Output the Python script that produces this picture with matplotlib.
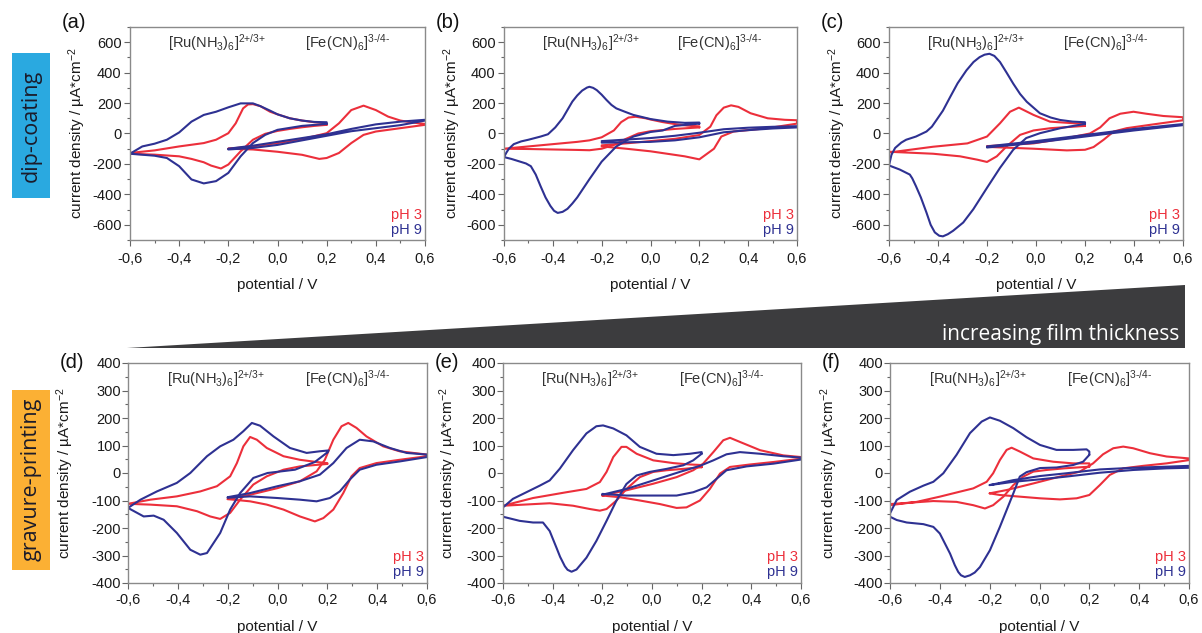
import matplotlib
matplotlib.use('Agg')
import matplotlib.pyplot as plt
from matplotlib.ticker import MultipleLocator, FuncFormatter
from matplotlib.patches import Polygon, Rectangle

plt.rcParams['font.family'] = ['Liberation Sans', 'DejaVu Sans']
plt.rcParams['mathtext.fontset'] = 'custom'
plt.rcParams['mathtext.rm'] = 'Liberation Sans'
plt.rcParams['mathtext.it'] = 'Liberation Sans:italic'
plt.rcParams['mathtext.bf'] = 'Liberation Sans:bold'
plt.rcParams['axes.unicode_minus'] = False

W, H = 1202, 633
RED = '#ec2f3b'
BLUE = '#2e3192'

# cyclic voltammograms: (potential / V, current density / uA cm-2), one closed loop per redox couple
# dip-coating
a_ph3_ru = [(0.2, 57), (0.15, 50), (0.1, 41), (0.05, 30), (0.0, 17), (-0.05, -2), (-0.1, -41), (-0.15, -117),
            (-0.2, -204), (-0.23, -230), (-0.27, -211), (-0.3, -189), (-0.35, -167), (-0.4, -150), (-0.5, -139),
            (-0.6, -133), (-0.6, -128), (-0.5, -111), (-0.4, -85), (-0.3, -63), (-0.25, -41), (-0.2, 2),
            (-0.17, 67), (-0.14, 165), (-0.12, 191), (-0.1, 193), (-0.07, 180), (-0.03, 143), (0.0, 126),
            (0.05, 100), (0.1, 85), (0.15, 74), (0.2, 67), (0.2, 57)]
a_ph9_ru = [(0.2, 63), (0.1, 50), (0.0, 24), (-0.05, -9), (-0.1, -63), (-0.15, -150), (-0.2, -259), (-0.25, -313),
            (-0.3, -328), (-0.35, -302), (-0.4, -215), (-0.45, -161), (-0.5, -146), (-0.6, -133), (-0.55, -85),
            (-0.5, -67), (-0.45, -41), (-0.4, 7), (-0.35, 78), (-0.3, 122), (-0.25, 143), (-0.2, 172),
            (-0.15, 198), (-0.1, 198), (-0.07, 180), (-0.03, 150), (0.0, 126), (0.05, 100), (0.1, 85),
            (0.15, 76), (0.2, 74), (0.2, 63)]
a_ph3_fe = [(-0.2, -100), (-0.1, -85), (0.0, -63), (0.1, -37), (0.2, 2), (0.25, 67), (0.3, 154), (0.35, 183),
            (0.4, 154), (0.45, 111), (0.5, 85), (0.55, 72), (0.6, 63), (0.6, 57), (0.5, 35), (0.4, 13),
            (0.35, -9), (0.3, -63), (0.25, -128), (0.2, -161), (0.17, -167), (0.1, -140), (0.0, -120),
            (-0.1, -105), (-0.2, -100)]
a_ph9_fe = [(-0.2, -100), (-0.1, -80), (0.0, -55), (0.1, -30), (0.2, -5), (0.3, 30), (0.4, 60), (0.5, 78),
            (0.6, 90), (0.6, 85), (0.5, 55), (0.4, 35), (0.3, 15), (0.2, -15), (0.1, -45), (0.0, -75),
            (-0.1, -95), (-0.2, -105)]

b_ph3_ru = [(0.2, 40), (0.1, 30), (0.0, 15), (-0.05, 0), (-0.1, -35), (-0.15, -75), (-0.2, -100), (-0.25, -110),
            (-0.3, -108), (-0.4, -105), (-0.5, -102), (-0.6, -100), (-0.5, -85), (-0.4, -70), (-0.3, -55),
            (-0.25, -45), (-0.2, -25), (-0.15, 20), (-0.12, 75), (-0.09, 105), (-0.06, 110), (-0.02, 100),
            (0.0, 92), (0.05, 75), (0.1, 62), (0.15, 52), (0.2, 47), (0.2, 40)]
b_ph9_ru = [(0.2, 65), (0.1, 50), (0.05, 20), (0.0, 10), (-0.07, -20), (-0.14, -85), (-0.2, -185), (-0.25, -300),
            (-0.3, -420), (-0.32, -460), (-0.34, -495), (-0.36, -515), (-0.38, -522), (-0.395, -508),
            (-0.41, -476), (-0.43, -420), (-0.45, -347), (-0.47, -270), (-0.49, -215), (-0.51, -197),
            (-0.53, -187), (-0.57, -167), (-0.6, -155), (-0.59, -125), (-0.58, -100), (-0.56, -70), (-0.53, -52),
            (-0.5, -41), (-0.45, -20), (-0.42, -5), (-0.39, 40), (-0.36, 100), (-0.34, 155), (-0.32, 210),
            (-0.3, 250), (-0.28, 282), (-0.26, 302), (-0.25, 307), (-0.235, 300), (-0.22, 285), (-0.2, 255),
            (-0.18, 220), (-0.16, 188), (-0.14, 165), (-0.1, 140), (-0.07, 122), (0.0, 95), (0.07, 78),
            (0.14, 70), (0.2, 72), (0.2, 65)]
b_ph3_fe = [(-0.2, -78), (-0.1, -65), (0.0, -50), (0.1, -35), (0.2, -10), (0.245, 45), (0.27, 120), (0.3, 170),
            (0.33, 185), (0.36, 175), (0.41, 133), (0.48, 100), (0.55, 90), (0.6, 87), (0.6, 65), (0.48, 35),
            (0.34, 13), (0.29, -20), (0.26, -100), (0.2, -170), (0.14, -150), (0.0, -117), (-0.1, -100),
            (-0.2, -85)]
b_ph9_fe = [(-0.2, -50), (-0.1, -40), (0.0, -30), (0.1, -15), (0.2, 5), (0.3, 28), (0.4, 38), (0.5, 44),
            (0.6, 48), (0.6, 40), (0.5, 33), (0.4, 22), (0.3, 8), (0.2, -25), (0.1, -45), (0.0, -55),
            (-0.1, -58), (-0.2, -60)]

c_ph3_ru = [(0.2, 50), (0.06, 35), (-0.01, 20), (-0.065, -9), (-0.12, -85), (-0.16, -150), (-0.2, -187),
            (-0.24, -172), (-0.31, -150), (-0.42, -133), (-0.6, -120), (-0.6, -125), (-0.42, -87),
            (-0.28, -65), (-0.2, -20), (-0.147, 67), (-0.106, 143), (-0.07, 170), (-0.01, 122), (0.057, 78),
            (0.194, 63), (0.2, 50)]
c_ph9_ru = [(0.2, 63), (0.1, 35), (0.016, 2), (-0.04, -30), (-0.093, -107), (-0.147, -226), (-0.2, -357),
            (-0.256, -498), (-0.297, -585), (-0.338, -639), (-0.36, -662), (-0.38, -676), (-0.395, -672),
            (-0.413, -650), (-0.43, -600), (-0.447, -520), (-0.47, -420), (-0.49, -346), (-0.505, -295),
            (-0.515, -270), (-0.556, -237), (-0.6, -210), (-0.59, -140), (-0.575, -95), (-0.55, -60),
            (-0.53, -41), (-0.49, -20), (-0.447, 13), (-0.425, 45), (-0.406, 89), (-0.38, 150), (-0.35, 241),
            (-0.32, 330), (-0.284, 415), (-0.255, 470), (-0.23, 502), (-0.21, 518), (-0.19, 524), (-0.17, 510),
            (-0.147, 470), (-0.12, 400), (-0.093, 328), (-0.065, 260), (-0.038, 209), (0.016, 133), (0.06, 105),
            (0.098, 89), (0.15, 78), (0.2, 74), (0.2, 63)]
c_ph3_fe = [(-0.2, -83), (-0.01, -65), (0.126, -30), (0.22, 0), (0.262, 40), (0.3, 100), (0.344, 130),
            (0.398, 143), (0.45, 130), (0.52, 115), (0.6, 107), (0.6, 87), (0.466, 57), (0.37, 35),
            (0.317, 13), (0.276, -41), (0.235, -89), (0.2, -107), (0.126, -111), (-0.01, -100), (-0.2, -88)]
c_ph9_fe = [(-0.2, -85), (0.0, -50), (0.2, -10), (0.4, 30), (0.6, 62), (0.6, 55), (0.4, 20), (0.2, -20),
            (0.0, -60), (-0.2, -92)]

# gravure-printing
d_ph3_ru = [(0.2, 33), (0.09, 24), (0.024, 12), (-0.043, -12), (-0.097, -42), (-0.15, -97), (-0.19, -145),
            (-0.23, -167), (-0.27, -158), (-0.323, -139), (-0.404, -121), (-0.51, -115), (-0.6, -112),
            (-0.51, -97), (-0.404, -85), (-0.31, -67), (-0.243, -48), (-0.19, -12), (-0.163, 36), (-0.137, 97),
            (-0.11, 131), (-0.083, 121), (-0.043, 91), (0.024, 61), (0.09, 48), (0.157, 40), (0.2, 36), (0.2, 33)]
d_ph9_ru = [(0.2, 75), (0.15, 40), (0.07, 12), (-0.04, 0), (-0.097, -18), (-0.15, -73), (-0.19, -133),
            (-0.23, -218), (-0.283, -291), (-0.31, -297), (-0.35, -279), (-0.404, -218), (-0.457, -170),
            (-0.497, -155), (-0.537, -158), (-0.6, -127), (-0.55, -97), (-0.484, -67), (-0.404, -36), (-0.35, 0),
            (-0.283, 61), (-0.23, 97), (-0.177, 121), (-0.137, 152), (-0.103, 182), (-0.07, 172), (-0.016, 133),
            (0.05, 91), (0.117, 73), (0.17, 79), (0.205, 82), (0.2, 75)]
d_ph3_fe = [(-0.2, -95), (-0.11, -79), (0.0, -55), (0.09, -30), (0.157, 6), (0.19, 48), (0.224, 121),
            (0.257, 170), (0.284, 182), (0.317, 164), (0.357, 133), (0.424, 97), (0.49, 79), (0.6, 67), (0.6, 61),
            (0.49, 48), (0.397, 36), (0.33, 18), (0.297, -12), (0.264, -73), (0.224, -133), (0.184, -164),
            (0.15, -176), (0.09, -158), (0.024, -133), (-0.043, -115), (-0.11, -103), (-0.2, -95)]
d_ph9_fe = [(-0.2, -88), (-0.11, -73), (0.0, -48), (0.09, -30), (0.17, -6), (0.224, 36), (0.277, 91),
            (0.33, 121), (0.384, 115), (0.451, 91), (0.518, 73), (0.6, 67), (0.6, 58), (0.49, 42), (0.397, 30),
            (0.33, 12), (0.29, -24), (0.25, -67), (0.21, -91), (0.157, -103), (0.09, -97), (0.0, -91),
            (-0.11, -85), (-0.2, -90)]

e_ph3_ru = [(0.2, 21), (0.126, 15), (0.059, 10), (0.005, 4), (-0.049, -15), (-0.103, -58), (-0.143, -100),
            (-0.183, -131), (-0.21, -137), (-0.25, -131), (-0.318, -119), (-0.412, -110), (-0.6, -119),
            (-0.479, -91), (-0.345, -70), (-0.264, -58), (-0.21, -33), (-0.183, 4), (-0.156, 58), (-0.123, 95),
            (-0.103, 95), (-0.062, 70), (0.005, 46), (0.086, 36), (0.153, 31), (0.2, 29), (0.2, 21)]
e_ph9_ru = [(0.2, 70), (0.166, 46), (0.126, 28), (0.059, 15), (-0.009, 4), (-0.062, -9), (-0.103, -40),
            (-0.143, -100), (-0.183, -174), (-0.224, -247), (-0.264, -308), (-0.304, -351), (-0.324, -359),
            (-0.34, -352), (-0.351, -339), (-0.37, -305), (-0.385, -271), (-0.412, -211), (-0.439, -180),
            (-0.479, -180), (-0.533, -174), (-0.6, -159), (-0.6, -125), (-0.56, -94), (-0.506, -70),
            (-0.452, -46), (-0.412, -27), (-0.371, 16), (-0.318, 83), (-0.264, 144), (-0.224, 170),
            (-0.197, 173), (-0.156, 162), (-0.103, 137), (-0.049, 95), (0.018, 70), (0.086, 65), (0.153, 70),
            (0.2, 76), (0.2, 70)]
e_ph3_fe = [(-0.2, -82), (-0.103, -63), (0.005, -39), (0.099, -15), (0.166, 10), (0.206, 34), (0.247, 76),
            (0.287, 119), (0.314, 128), (0.354, 113), (0.435, 83), (0.529, 64), (0.6, 58), (0.6, 52),
            (0.489, 40), (0.395, 31), (0.314, 22), (0.274, -2), (0.233, -58), (0.193, -100), (0.139, -125),
            (0.099, -127), (0.032, -113), (-0.049, -100), (-0.129, -88), (-0.2, -82)]
e_ph9_fe = [(-0.2, -79), (-0.103, -58), (0.005, -27), (0.112, 4), (0.193, 26), (0.247, 46), (0.3, 68),
            (0.354, 76), (0.435, 70), (0.529, 61), (0.6, 56), (0.6, 49), (0.489, 34), (0.381, 24), (0.3, 10),
            (0.26, -21), (0.22, -52), (0.166, -70), (0.099, -82), (0.005, -82), (-0.103, -82), (-0.2, -76)]

f_ph3_ru = [(0.2, 23), (0.1, 17), (0.028, 11), (-0.025, 5), (-0.065, -13), (-0.105, -44), (-0.145, -86),
            (-0.186, -117), (-0.219, -129), (-0.266, -117), (-0.333, -105), (-0.426, -102), (-0.6, -113),
            (-0.6, -117), (-0.493, -105), (-0.4, -86), (-0.32, -68), (-0.266, -56), (-0.212, -32), (-0.186, -1),
            (-0.159, 47), (-0.132, 84), (-0.112, 92), (-0.079, 78), (-0.025, 53), (0.055, 41), (0.135, 35),
            (0.2, 35), (0.2, 23)]
f_ph9_ru = [(0.2, 66), (0.175, 41), (0.135, 29), (0.068, 20), (0.002, 18), (-0.052, 3), (-0.079, -13),
            (-0.105, -74), (-0.132, -135), (-0.159, -196), (-0.199, -281), (-0.239, -342), (-0.26, -362),
            (-0.279, -372), (-0.3, -378), (-0.315, -372), (-0.326, -360), (-0.34, -335), (-0.359, -293),
            (-0.4, -220), (-0.426, -196), (-0.466, -186), (-0.533, -180), (-0.573, -171), (-0.6, -159),
            (-0.6, -147), (-0.573, -98), (-0.52, -68), (-0.466, -46), (-0.426, -32), (-0.386, -1), (-0.333, 66),
            (-0.279, 145), (-0.232, 187), (-0.199, 202), (-0.159, 190), (-0.105, 163), (-0.052, 130),
            (0.002, 102), (0.068, 84), (0.135, 84), (0.189, 86), (0.2, 78), (0.2, 66)]
f_ph3_fe = [(-0.2, -74), (-0.132, -62), (-0.025, -38), (0.082, -13), (0.162, 5), (0.215, 35), (0.255, 68),
            (0.296, 90), (0.336, 96), (0.376, 90), (0.443, 72), (0.51, 60), (0.6, 53), (0.6, 47), (0.51, 35),
            (0.416, 26), (0.336, 17), (0.282, -7), (0.242, -44), (0.2, -80), (0.149, -92), (0.082, -96),
            (0.002, -92), (-0.079, -86), (-0.159, -80), (-0.2, -74)]
f_ph9_fe = [(-0.2, -44), (-0.105, -26), (0.002, -11), (0.108, -1), (0.242, 13), (0.376, 19), (0.51, 23),
            (0.6, 26), (0.6, 19), (0.51, 17), (0.376, 11), (0.242, 1), (0.108, -13), (0.002, -23),
            (-0.105, -32), (-0.2, -44)]

x_ticks = [-0.6, -0.4, -0.2, 0.0, 0.2, 0.4, 0.6]
ru_label = r'[Ru(NH$_3$)$_6$]$^{\text{2+/3+}}$'
fe_label = r'[Fe(CN)$_6$]$^{\text{3-/4-}}$'


def px(x, y):
    return x / W, 1 - y / H


fig = plt.figure(figsize=(W / 100, H / 100), dpi=100)

# (label, pH 3 loops, pH 9 loops, y range, y major step, axes box in px (l, t, r, b), y-label offset px)
panels = [
    ('(a)', [a_ph3_ru, a_ph3_fe], [a_ph9_ru, a_ph9_fe], 700, 200, (130, 27, 425, 240), 55),
    ('(b)', [b_ph3_ru, b_ph3_fe], [b_ph9_ru, b_ph9_fe], 700, 200, (504, 27, 797, 240), 54),
    ('(c)', [c_ph3_ru, c_ph3_fe], [c_ph9_ru, c_ph9_fe], 700, 200, (889, 27, 1183, 240), 54),
    ('(d)', [d_ph3_ru, d_ph3_fe], [d_ph9_ru, d_ph9_fe], 400, 100, (128, 363, 427, 583), 65),
    ('(e)', [e_ph3_ru, e_ph3_fe], [e_ph9_ru, e_ph9_fe], 400, 100, (503, 363, 801, 583), 57),
    ('(f)', [f_ph3_ru, f_ph3_fe], [f_ph9_ru, f_ph9_fe], 400, 100, (890, 363, 1189, 583), 63),
]

for label, ph3, ph9, ymax, ystep, (l, t, r, b), ylab_off in panels:
    top_row = t < 300
    ax = fig.add_axes([l / W, 1 - b / H, (r - l) / W, (b - t) / H])
    for loops, col in ((ph3, RED), (ph9, BLUE)):
        for loop in loops:
            ax.plot([p[0] for p in loop], [p[1] for p in loop], color=col, lw=1.5,
                    solid_joinstyle='round', solid_capstyle='round')
    ax.set_xlim(-0.6, 0.6)
    ax.set_ylim(-ymax, ymax)
    ax.set_xticks(x_ticks)
    ax.xaxis.set_minor_locator(MultipleLocator(0.1))
    ytop = 600 if ymax == 700 else 400
    ax.set_yticks(list(range(-ytop, ytop + 1, ystep)))
    ax.yaxis.set_minor_locator(MultipleLocator(ystep / 2))
    ax.xaxis.set_major_formatter(FuncFormatter(lambda v, pos: f'{v:.1f}'.replace('.', ',').replace('-0,0', '0,0')))
    ax.tick_params(which='both', direction='out', colors='#666666', labelcolor='#1a1a1a',
                   labelsize=10.5, width=0.8)
    ax.tick_params(axis='x', which='both', pad=4.5 if top_row else 3.5)
    ax.tick_params(axis='y', which='both', pad=2 if top_row else 1)
    ax.tick_params(which='major', length=4)
    ax.tick_params(which='minor', length=2.5)
    for s in ax.spines.values():
        s.set_color('#8a8a8a')
        s.set_linewidth(1.0)
    ax.set_xlabel('potential / V', fontsize=11, color='#1a1a1a')
    ax.set_ylabel('current density / µA*cm$^{-2}$', fontsize=11, color='#1a1a1a')
    w_px, h_px = r - l, b - t
    ax.xaxis.set_label_coords(0.5, -(38 if top_row else 37) / h_px)
    ax.yaxis.set_label_coords(-(ylab_off - 13.3) / w_px, 0.5)
    tr = ax.get_xaxis_transform()
    ax.text(-0.445, 0.975, ru_label, transform=tr, ha='left', va='top', fontsize=10.5, color='#333333')
    ax.text(0.11, 0.975, fe_label, transform=tr, ha='left', va='top', fontsize=10.5, color='#333333')
    # legend-like pH tags in the lower right corner
    ax.text(0.99, 0.1, 'pH 3', transform=ax.transAxes, ha='right', va='baseline', fontsize=10.5, color=RED)
    ax.text(0.99, 0.03, 'pH 9', transform=ax.transAxes, ha='right', va='baseline', fontsize=10.5, color=BLUE)
    fig.text(*px(l - 68, t - 4 if top_row else t), label, fontsize=14.5, ha='left', va='center',
             color='#111111')

# side labels for the two coating methods
fig.patches.append(Rectangle(px(12, 198), 38 / W, 145 / H, transform=fig.transFigure,
                             facecolor='#2aa9e0', edgecolor='none'))
fig.text(*px(31, 126), 'dip-coating', rotation=90, ha='center', va='center',
         fontsize=15.5, family='Open Sans', color='#1b1b2a')
fig.patches.append(Rectangle(px(12, 570), 38 / W, 180 / H, transform=fig.transFigure,
                             facecolor='#fbb034', edgecolor='none'))
fig.text(*px(31, 479), 'gravure-printing', rotation=90, ha='center', va='center',
         fontsize=15.5, family='Open Sans', color='#1b1b2a')

# thickness wedge
wedge = [px(127, 348), px(1185, 285), px(1185, 348)]
fig.patches.append(Polygon(wedge, closed=True, transform=fig.transFigure,
                           facecolor='#3c3c3e', edgecolor='none'))
fig.text(*px(1179, 340), 'increasing film thickness', ha='right', va='baseline',
         fontsize=15, family='Open Sans', color='white')

fig.savefig('out.png', dpi=100)
